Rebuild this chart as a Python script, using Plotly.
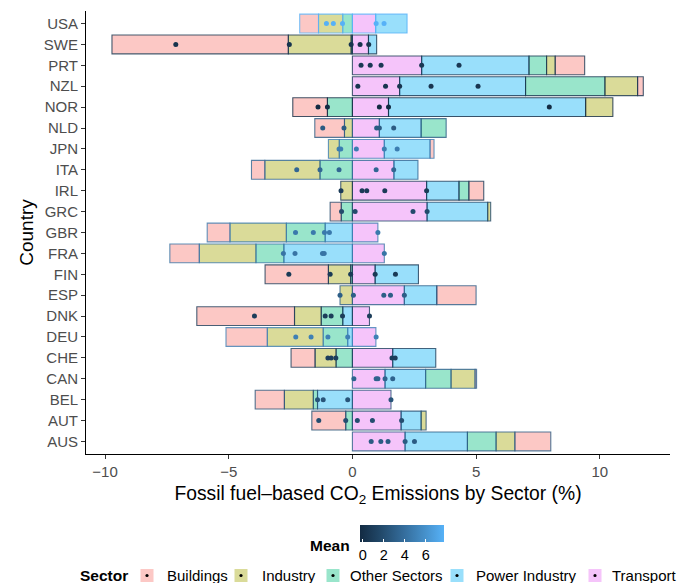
import plotly.graph_objects as go

# ---------------- data ----------------
countries = ["AUS", "AUT", "BEL", "CAN", "CHE", "DEU", "DNK", "ESP", "FIN", "FRA", "GBR",
             "GRC", "IRL", "ITA", "JPN", "NLD", "NOR", "NZL", "PRT", "SWE", "USA"]

transport = [2.13, 1.97, 1.56, 1.32, 1.63, 0.95, 0.69, 2.10, 0.92, 1.29, 1.03,
             3.02, 3.00, 1.68, 1.29, 1.09, 1.46, 1.91, 2.80, 0.65, 0.94]
power_industry = [2.52, 0.81, -1.41, 1.64, 1.74, -0.19, -0.39, 1.31, 1.75, -2.77, -1.10,
                  2.45, 1.31, 0.97, 1.85, 1.69, 7.97, 5.09, 4.34, 0.33, 1.27]
other_sectors = [1.16, -0.27, -0.17, 1.03, -0.66, -0.99, -0.87, 0.00, -0.07, -1.13, -1.57,
                 -0.45, 0.40, -1.31, -0.53, 1.01, -1.01, 3.21, 0.71, -0.05, -0.39]
industry = [0.76, 0.20, -1.17, 0.97, -0.85, -2.26, -1.08, -0.50, -0.90, -2.29, -2.28,
            0.12, -0.47, -2.23, -0.44, -0.32, 1.10, 1.32, 0.35, -2.54, -0.98]
buildings = [1.45, -1.37, -1.18, 0.06, -0.97, -1.67, -3.95, 1.59, -2.56, -1.19, -0.92,
             -0.45, 0.60, -0.54, 0.16, -1.20, -1.40, 0.23, 1.19, -7.13, -0.76]

mean_value = [2.8, 2.0, 2.4, 3.3, 1.0, 5.0, 0.9, 3.0, 0.7, 4.3, 4.6,
              1.8, 0.8, 3.5, 4.8, 2.8, -0.27, 0.4, 0.6, 0.3, 7.73]

point_values = {
    "AUS": [0.76, 1.15, 1.44, 2.13, 2.51],
    "AUT": [-1.36, -0.27, 0.20, 0.81, 1.99],
    "BEL": [-1.41, -1.18, -0.19, 1.56],
    "CAN": [0.06, 0.96, 1.03, 1.32, 1.63],
    "CHE": [-0.99, -0.86, -0.67, 1.60, 1.73],
    "DEU": [-2.29, -1.67, -0.99, -0.19, 0.96],
    "DNK": [-3.96, -1.10, -0.86, -0.40, 0.69],
    "ESP": [-0.50, 0.04, 1.27, 1.54, 2.10],
    "FIN": [-2.57, -0.90, -0.07, 0.92, 1.74],
    "FRA": [-2.79, -2.32, -1.21, -1.14, 1.29],
    "GBR": [-2.30, -1.58, -1.13, -0.93, 1.03],
    "GRC": [-0.44, 0.11, 2.45, 3.02],
    "IRL": [-0.46, 0.39, 0.58, 1.31, 3.00],
    "ITA": [-2.25, -1.31, -0.54, 0.96, 1.67],
    "JPN": [-0.54, -0.47, 0.16, 1.29, 1.81],
    "NLD": [-1.20, -0.34, 0.98, 1.09, 1.67],
    "NOR": [-1.39, -1.01, 1.09, 1.46, 7.96],
    "NZL": [0.22, 1.34, 1.91, 3.18, 5.08],
    "PRT": [0.35, 0.72, 1.16, 2.80, 4.31],
    "SWE": [-7.14, -2.55, -0.05, 0.31, 0.66],
    "USA": [-1.05, -0.77, -0.40, 0.96, 1.28],
}

sector_names = ["Transport", "Power Industry", "Other Sectors", "Industry", "Buildings"]
sector_values = [transport, power_industry, other_sectors, industry, buildings]
sector_colors = ["231,107,243", "0,176,246", "0,191,125", "163,165,0", "248,118,109"]
legend_order = ["Buildings", "Industry", "Other Sectors", "Power Industry", "Transport"]

tick_vals = [-10, -5, 0, 5, 10]
mean_ticks = [0, 2, 4, 6]

# ---------------- layout geometry ----------------
# the page body has an 8px margin, so the figure starts at (8, 8) on screen
OFF = 8
W, H = 681, 575
PLOT_L, PLOT_R, PLOT_T, PLOT_B = 86, 670, 11, 454      # target screen pixels
ML, MR = PLOT_L - OFF, W - (PLOT_R - OFF)
MT, MB = PLOT_T - OFF, H - (PLOT_B - OFF)
PW, PH = W - ML - MR, H - MT - MB
FONT = "Liberation Sans, Arial, sans-serif"


def px2x(sx):
    return (sx - OFF - ML) / PW


def px2y(sy):
    return (H - MB - (sy - OFF)) / PH


scale_stops = [(0.0, (19, 43, 67)), (0.25, (34, 73, 106)), (0.5, (51, 106, 152)),
               (0.75, (68, 141, 198)), (1.0, (86, 177, 247))]
cmin, cmax = min(mean_value), max(mean_value)


def mean_color(v, alpha=1.0):
    t = (v - cmin) / (cmax - cmin)
    for (t0, c0), (t1, c1) in zip(scale_stops[:-1], scale_stops[1:]):
        if t <= t1 + 1e-9:
            f = 0 if t1 == t0 else (t - t0) / (t1 - t0)
            c = [round(a + (b - a) * f) for a, b in zip(c0, c1)]
            return f"rgba({c[0]},{c[1]},{c[2]},{alpha})"
    c = scale_stops[-1][1]
    return f"rgba({c[0]},{c[1]},{c[2]},{alpha})"


colorscale = [[t, "rgb(%d,%d,%d)" % c] for t, c in scale_stops]
outline_colors = [mean_color(m, 0.8) for m in mean_value]

fig = go.Figure()

for name, vals, col in zip(sector_names, sector_values, sector_colors):
    fig.add_trace(go.Bar(
        x=vals, y=countries, orientation="h", name=name,
        marker=dict(color=f"rgba({col},0.4)",
                    line=dict(color=outline_colors, width=1.1)),
        showlegend=False, hoverinfo="x+y+name",
    ))

# points coloured by Mean
pt_x, pt_y, pt_c = [], [], []
for c, m in zip(countries, mean_value):
    for v in point_values[c]:
        pt_x.append(v)
        pt_y.append(c)
        pt_c.append(m)

fig.add_trace(go.Scatter(
    x=pt_x, y=pt_y, mode="markers", showlegend=False,
    marker=dict(size=5, color=pt_c, colorscale=colorscale, cmin=cmin, cmax=cmax,
                showscale=True,
                colorbar=dict(orientation="h", x=px2x(402), xanchor="center",
                              y=px2y(524.5), yanchor="top",
                              len=84, lenmode="pixels", thickness=17,
                              tickvals=mean_ticks, ticks="inside", ticklen=3,
                              tickcolor="white", outlinewidth=0,
                              tickfont=dict(size=14.5, color="black", family=FONT),
                              xpad=0, ypad=0)),
))

annotations = [dict(text="<b>Mean</b>", x=px2x(352), y=px2y(545), xref="paper", yref="paper",
                    xanchor="right", yanchor="middle", showarrow=False,
                    font=dict(size=15.5, color="black", family=FONT))]
shapes = []

# ---------------- Sector legend (drawn manually to match ggplot layout) ----------------
leg_y = 575.5
key_centers = [147, 241, 333, 457, 595]
text_left = [165, 259.5, 348, 474, 610]
annotations.append(dict(text="<b>Sector</b>", x=px2x(78), y=px2y(leg_y), xref="paper",
                        yref="paper", xanchor="left", yanchor="middle", showarrow=False,
                        font=dict(size=15.5, color="black", family=FONT)))
col_of = dict(zip(sector_names, sector_colors))
for name, kc, tl in zip(legend_order, key_centers, text_left):
    shapes.append(dict(type="rect", xref="paper", yref="paper",
                       x0=px2x(kc - 6.5), x1=px2x(kc + 6.5),
                       y0=px2y(leg_y - 6.5), y1=px2y(leg_y + 6.5),
                       fillcolor=f"rgba({col_of[name]},0.4)", line=dict(width=0)))
    shapes.append(dict(type="circle", xref="paper", yref="paper",
                       x0=px2x(kc - 1.6), x1=px2x(kc + 1.6),
                       y0=px2y(leg_y - 1.6), y1=px2y(leg_y + 1.6),
                       fillcolor="black", line=dict(width=0)))
    annotations.append(dict(text=name, x=px2x(tl), y=px2y(leg_y), xref="paper", yref="paper",
                            xanchor="left", yanchor="middle", showarrow=False,
                            font=dict(size=15, color="black", family=FONT)))

axis_common = dict(showgrid=False, zeroline=False, showline=True, linecolor="black",
                   linewidth=1, ticks="outside", ticklen=4, tickcolor="#333333",
                   automargin=False,
                   tickfont=dict(size=15, color="#4D4D4D", family=FONT))

fig.update_layout(
    width=W, height=H,
    margin=dict(l=ML, r=MR, t=MT, b=MB, autoexpand=False),
    paper_bgcolor="white", plot_bgcolor="white",
    barmode="relative", bargap=0.1,
    font=dict(family=FONT, color="black"),
    showlegend=False,
    xaxis=dict(range=[-10.77, 12.84], tickvals=tick_vals,
               title=dict(text="Fossil fuel\u2013based CO<sub>2</sub> Emissions by Sector (%)",
                          font=dict(size=19.3, color="black", family=FONT), standoff=7),
               **axis_common),
    yaxis=dict(categoryorder="array", categoryarray=countries, range=[-0.6, 20.6],
               title=dict(text="Country", font=dict(size=19, color="black", family=FONT),
                          standoff=5),
               **axis_common),
    annotations=annotations,
    shapes=shapes,
)

fig.write_html("out.html")
